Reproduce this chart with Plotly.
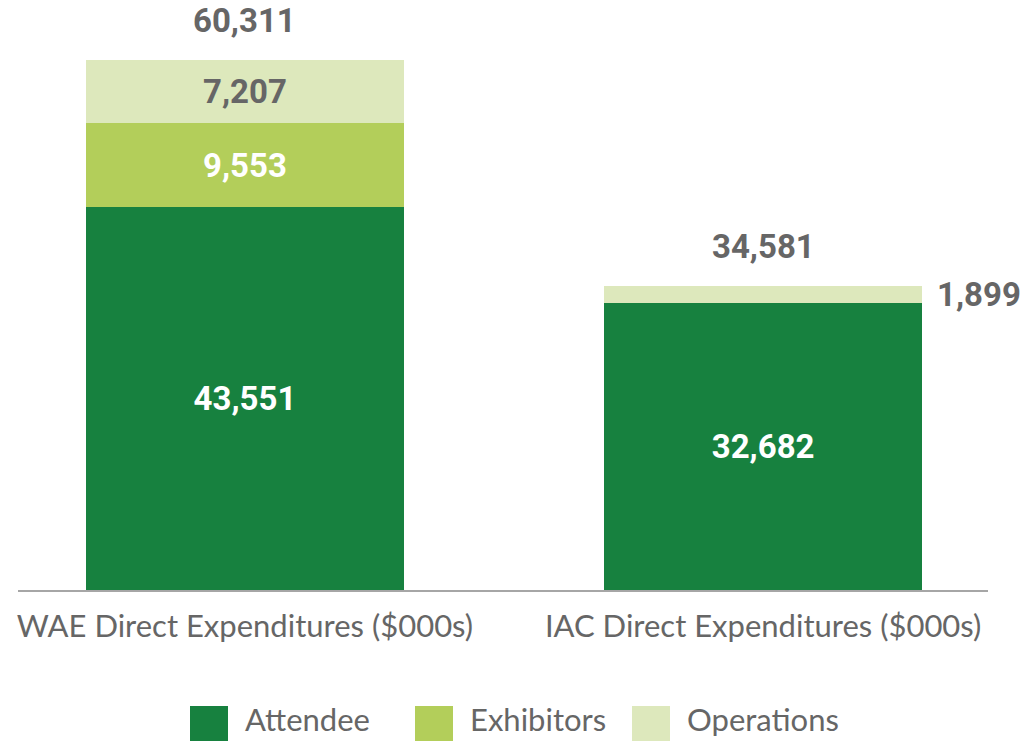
import plotly.graph_objects as go

categories = ["WAE Direct Expenditures ($000s)", "IAC Direct Expenditures ($000s)"]
series_names = ["Attendee", "Exhibitors", "Operations"]
attendee = [43551, 32682]
exhibitors = [9553, 0]
operations = [7207, 1899]
totals = [60311, 34581]

colors = ["#17813F", "#B3CE5A", "#DDE8BC"]
text_gray = "#666666"
num_font = "Roboto"
lab_font = "Lato"

def fmt(v):
    return f"{v:,}"

fig = go.Figure()
series = [attendee, exhibitors, operations]
inside_colors = ["white", "white", text_gray]
for name, vals, col, tcol in zip(series_names, series, colors, inside_colors):
    texts = []
    for i, v in enumerate(vals):
        if v == 0:
            texts.append("")
        elif name == "Operations" and i == 1:
            texts.append("")  # shown outside as annotation
        else:
            texts.append(fmt(v))
    fig.add_trace(go.Bar(
        x=[0, 1], y=vals, name=name, marker=dict(color=col, line=dict(width=0)),
        text=texts, textposition="inside", insidetextanchor="middle", textangle=0,
        textfont=dict(family=num_font, size=33, color=tcol, weight="bold"),
        showlegend=False, hoverinfo="skip",
    ))

# totals
for i, t in enumerate(totals):
    fig.add_annotation(x=i, y=t, text=f"<b>{fmt(t)}</b>", showarrow=False,
                       yanchor="bottom", yshift=18,
                       font=dict(family=num_font, size=33, color=text_gray))

# small IAC operations label outside the bar
fig.add_annotation(x=1, y=attendee[1] + operations[1] / 2, text=f"<b>{fmt(operations[1])}</b>",
                   showarrow=False, xanchor="left", xshift=172,
                   font=dict(family=num_font, size=33, color=text_gray))

# custom legend
leg_x = [190, 415, 632]
for name, col, lx in zip(series_names, colors, leg_x):
    fig.add_shape(type="rect", xref="paper", yref="paper",
                  x0=(lx - 18) / 970, x1=(lx + 38 - 18) / 970,
                  y0=(590 - 745) / 570, y1=(590 - 706) / 570,
                  fillcolor=col, line=dict(width=0), layer="above")
    fig.add_annotation(xref="paper", yref="paper", x=(lx + 53 - 18) / 970, y=(590 - 719) / 570,
                       text=name, showarrow=False, xanchor="left", yanchor="middle",
                       font=dict(family=lab_font, size=31, color=text_gray))

fig.update_layout(
    width=1036, height=741,
    margin=dict(l=18, r=48, t=20, b=151),
    paper_bgcolor="white", plot_bgcolor="white",
    barmode="stack", bargap=0.386,
    xaxis=dict(tickmode="array", tickvals=[0, 1], ticktext=categories,
               range=[-0.438, 1.434], showline=True, linecolor="#A6A6A6", linewidth=2,
               showgrid=False, zeroline=False, ticks="", ticklabelstandoff=8,
               tickfont=dict(family=lab_font, size=31, color=text_gray)),
    yaxis=dict(range=[0, 64864], visible=False, showgrid=False, zeroline=False),
    uniformtext=dict(mode=False),
)
fig.write_html("out.html")
